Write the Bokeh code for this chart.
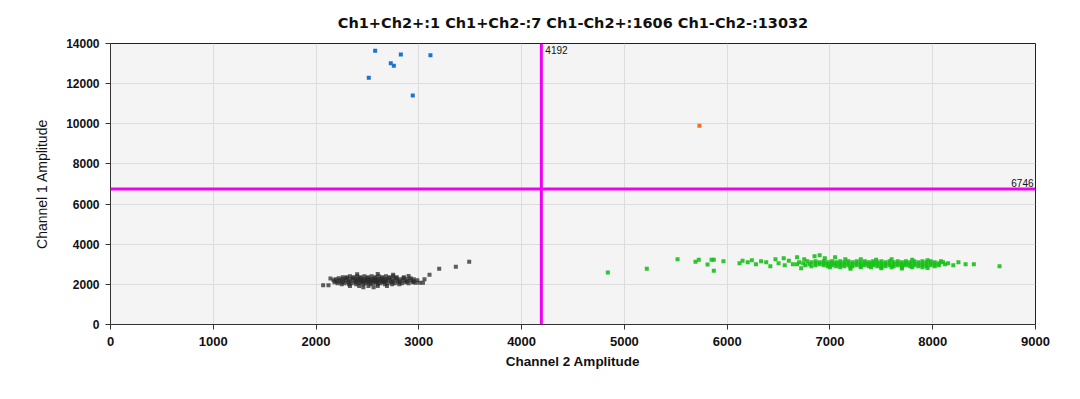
from bokeh.plotting import figure
from bokeh.models import Span, Label, FixedTicker, Range1d
from bokeh.embed import file_html
from bokeh.resources import INLINE

title_text = "Ch1+Ch2+:1 Ch1+Ch2-:7 Ch1-Ch2+:1606 Ch1-Ch2-:13032"
x_label = "Channel 2 Amplitude"
y_label = "Channel 1 Amplitude"
x_ticks = [0, 1000, 2000, 3000, 4000, 5000, 6000, 7000, 8000, 9000]
y_ticks = [0, 2000, 4000, 6000, 8000, 10000, 12000, 14000]
ch2_threshold = 4192
ch1_threshold = 6746

# Ch1+Ch2- droplets (blue)
blue_pts = [(2575, 13640), (2825, 13450), (3113, 13420), (2727, 13020),
            (2757, 12890), (2513, 12290), (2941, 11410)]
# Ch1+Ch2+ droplet (orange)
orange_pts = [(5730, 9900)]
# Ch1-Ch2- droplets (grey)
grey_pts = [
    (2330, 2400), (2400, 2400), (2470, 2400), (2540, 2400), (2610, 2400), (2680, 2400), (2750, 2400),
    (2260, 2350), (2300, 2350), (2365, 2350), (2435, 2350), (2505, 2350), (2575, 2350), (2645, 2350),
    (2715, 2350), (2785, 2350), (2855, 2350),
    (2220, 2300), (2290, 2300), (2360, 2300), (2430, 2300), (2500, 2300), (2570, 2300), (2640, 2300),
    (2710, 2300), (2780, 2300), (2850, 2300), (2920, 2300),
    (2190, 2250), (2255, 2250), (2325, 2250), (2395, 2250), (2465, 2250), (2535, 2250), (2605, 2250),
    (2675, 2250), (2745, 2250), (2815, 2250), (2885, 2250), (2950, 2250),
    (2170, 2200), (2230, 2200), (2290, 2200), (2360, 2200), (2430, 2200), (2500, 2200), (2570, 2200),
    (2640, 2200), (2710, 2200), (2780, 2200), (2850, 2200), (2920, 2200), (2985, 2200),
    (2200, 2150), (2265, 2150), (2325, 2150), (2395, 2150), (2465, 2150), (2535, 2150), (2605, 2150),
    (2675, 2150), (2745, 2150), (2815, 2150), (2885, 2150), (2950, 2150),
    (2180, 2100), (2240, 2100), (2310, 2100), (2380, 2100), (2450, 2100), (2520, 2100), (2590, 2100),
    (2660, 2100), (2730, 2100), (2800, 2100), (2870, 2100), (2940, 2100),
    (2210, 2050), (2275, 2050), (2345, 2050), (2415, 2050), (2485, 2050), (2555, 2050), (2625, 2050),
    (2695, 2050), (2765, 2050), (2835, 2050), (2900, 2050),
    (2250, 2000), (2320, 2000), (2390, 2000), (2460, 2000), (2530, 2000), (2600, 2000), (2670, 2000),
    (2740, 2000), (2810, 2000),
    (2330, 1920), (2420, 1920), (2510, 1920), (2600, 1920), (2690, 1920),
    (2460, 1850), (2560, 1850),
    (2400, 2225), (2470, 2225), (2540, 2225), (2610, 2225), (2680, 2225),
    (2435, 2125), (2505, 2125), (2575, 2125), (2645, 2125),
    (2440, 2175), (2510, 2175), (2580, 2175), (2650, 2175),
    (2400, 2500), (2600, 2520), (2750, 2480), (2900, 2420),
    (2069, 1958), (2121, 1958), (2140, 2292), (2967, 2077), (3006, 2077), (3040, 2077),
    (3055, 2257), (3104, 2476), (3198, 2775), (3360, 2875), (3490, 3124),
]
# Ch1-Ch2+ droplets (green)
green_pts = [
    (6780, 3150), (6860, 3150), (6940, 3150), (7020, 3150), (7100, 3150), (7180, 3150), (7260, 3150),
    (7340, 3150), (7420, 3150), (7500, 3150), (7580, 3150), (7660, 3150), (7740, 3150), (7820, 3150),
    (7900, 3150), (7980, 3150),
    (6700, 3100), (6820, 3100), (6900, 3100), (6980, 3100), (7060, 3100), (7140, 3100), (7220, 3100),
    (7300, 3100), (7380, 3100), (7460, 3100), (7540, 3100), (7620, 3100), (7700, 3100), (7780, 3100),
    (7860, 3100), (7940, 3100), (8020, 3100), (8100, 3100),
    (6740, 3050), (6860, 3050), (6940, 3050), (7020, 3050), (7100, 3050), (7180, 3050), (7260, 3050),
    (7340, 3050), (7420, 3050), (7500, 3050), (7580, 3050), (7660, 3050), (7740, 3050), (7820, 3050),
    (7900, 3050), (7980, 3050), (8060, 3050),
    (6680, 3000), (6800, 3000), (6900, 3000), (6980, 3000), (7060, 3000), (7140, 3000), (7220, 3000),
    (7300, 3000), (7380, 3000), (7460, 3000), (7540, 3000), (7620, 3000), (7700, 3000), (7780, 3000),
    (7860, 3000), (7940, 3000), (8020, 3000), (8120, 3000),
    (6760, 2950), (6860, 2950), (6940, 2950), (7020, 2950), (7100, 2950), (7180, 2950), (7260, 2950),
    (7340, 2950), (7420, 2950), (7500, 2950), (7580, 2950), (7660, 2950), (7740, 2950), (7820, 2950),
    (7900, 2950), (7980, 2950), (8060, 2950),
    (6820, 2900), (6980, 2900), (7060, 2900), (7140, 2900), (7220, 2900), (7300, 2900), (7380, 2900),
    (7460, 2900), (7540, 2900), (7620, 2900), (7700, 2900), (7780, 2900), (7860, 2900), (7940, 2900),
    (8020, 2900),
    (7000, 2850), (7100, 2850), (7200, 2850), (7300, 2850), (7400, 2850), (7500, 2850), (7600, 2850),
    (7700, 2850), (7800, 2850), (7900, 2850),
    (4839, 2591), (5218, 2775), (5517, 3254), (5692, 3124), (5724, 3224), (5809, 2990), (5848, 3224),
    (5870, 3224), (5870, 2676), (5964, 3154), (6120, 3050), (6150, 3180), (6200, 3100), (6240, 3200),
    (6280, 3000), (6330, 3150), (6380, 3100), (6420, 2900), (6470, 3250), (6500, 3050), (6550, 3300),
    (6560, 2950), (6600, 3180), (6640, 3000), (6680, 3350), (6720, 2800), (6750, 3250), (6850, 3400),
    (6950, 3300), (7050, 3350), (7150, 3250), (7300, 3250), (7450, 3220), (7600, 3250), (7800, 3230),
    (7950, 3200), (8080, 3150), (8150, 3050), (8200, 2950), (8250, 3100), (8320, 3000), (8400, 3000),
    (8650, 2905), (7200, 2780), (7500, 2800), (7700, 2790), (7950, 2820), (6900, 3450),
]

p = figure(width=1070, height=393, output_backend="svg", toolbar_location=None,
           x_range=Range1d(0, 9000), y_range=Range1d(0, 14000),
           min_border_left=110, min_border_right=35, min_border_bottom=69, min_border_top=43)
p.background_fill_color = "#f4f4f4"
p.border_fill_color = "white"
p.outline_line_color = "#222222"
p.outline_line_width = 1

p.title.text = title_text
p.title.align = "center"
p.title.text_font = "DejaVu Sans"
p.title.text_font_size = "14.5px"
p.title.text_font_style = "bold"
p.title.text_color = "#111111"
p.title.standoff = 25

p.xaxis.ticker = FixedTicker(ticks=x_ticks)
p.yaxis.ticker = FixedTicker(ticks=y_ticks)
p.xaxis.axis_label = x_label
p.yaxis.axis_label = y_label
for ax in (p.xaxis, p.yaxis):
    ax.major_tick_in = 0
    ax.major_tick_out = 5
    ax.minor_tick_line_color = None
    ax.axis_line_color = "#333333"
    ax.major_tick_line_color = "#333333"
    ax.major_label_text_font = "Liberation Sans"
    ax.major_label_text_font_style = "bold"
    ax.major_label_text_color = "#111111"
    ax.axis_label_text_font = "Liberation Sans"
    ax.axis_label_text_color = "#111111"
p.xaxis.major_label_text_font_size = "13px"
p.yaxis.major_label_text_font_size = "12px"
p.xaxis.axis_label_text_font_size = "13.5px"
p.yaxis.axis_label_text_font_size = "14px"
p.xaxis.axis_label_text_font_style = "bold"
p.yaxis.axis_label_text_font_style = "normal"
p.xaxis.major_label_standoff = 7
p.yaxis.major_label_standoff = 6
p.xaxis.axis_label_standoff = 5
p.yaxis.axis_label_standoff = 13

p.xgrid.grid_line_color = "#dcdcdc"
p.ygrid.grid_line_color = "#dcdcdc"

p.scatter([v[0] for v in grey_pts], [v[1] for v in grey_pts], marker="square", size=4,
          fill_color="#2a2a2a", fill_alpha=0.75, line_color=None)
p.scatter([v[0] for v in green_pts], [v[1] for v in green_pts], marker="square", size=4,
          fill_color="#18c018", fill_alpha=0.9, line_color=None)
p.scatter([v[0] for v in blue_pts], [v[1] for v in blue_pts], marker="square", size=4,
          fill_color="#1a74d6", line_color=None)
p.scatter([v[0] for v in orange_pts], [v[1] for v in orange_pts], marker="square", size=4,
          fill_color="#f07020", line_color=None)

p.add_layout(Span(location=ch2_threshold, dimension="height", line_color="#f000f0", line_width=3))
p.add_layout(Span(location=ch1_threshold, dimension="width", line_color="#f000f0", line_width=3))

p.add_layout(Label(x=ch2_threshold, y=14000, text=str(ch2_threshold), x_offset=4, y_offset=-2,
                   text_baseline="top", text_font="Liberation Sans", text_font_size="10px",
                   text_color="#111111"))
p.add_layout(Label(x=9000, y=ch1_threshold, text=str(ch1_threshold), x_offset=-2, y_offset=2,
                   text_align="right", text_baseline="bottom", text_font="Liberation Sans",
                   text_font_size="10px", text_color="#111111"))

open("out.html", "w").write(file_html(p, INLINE))
